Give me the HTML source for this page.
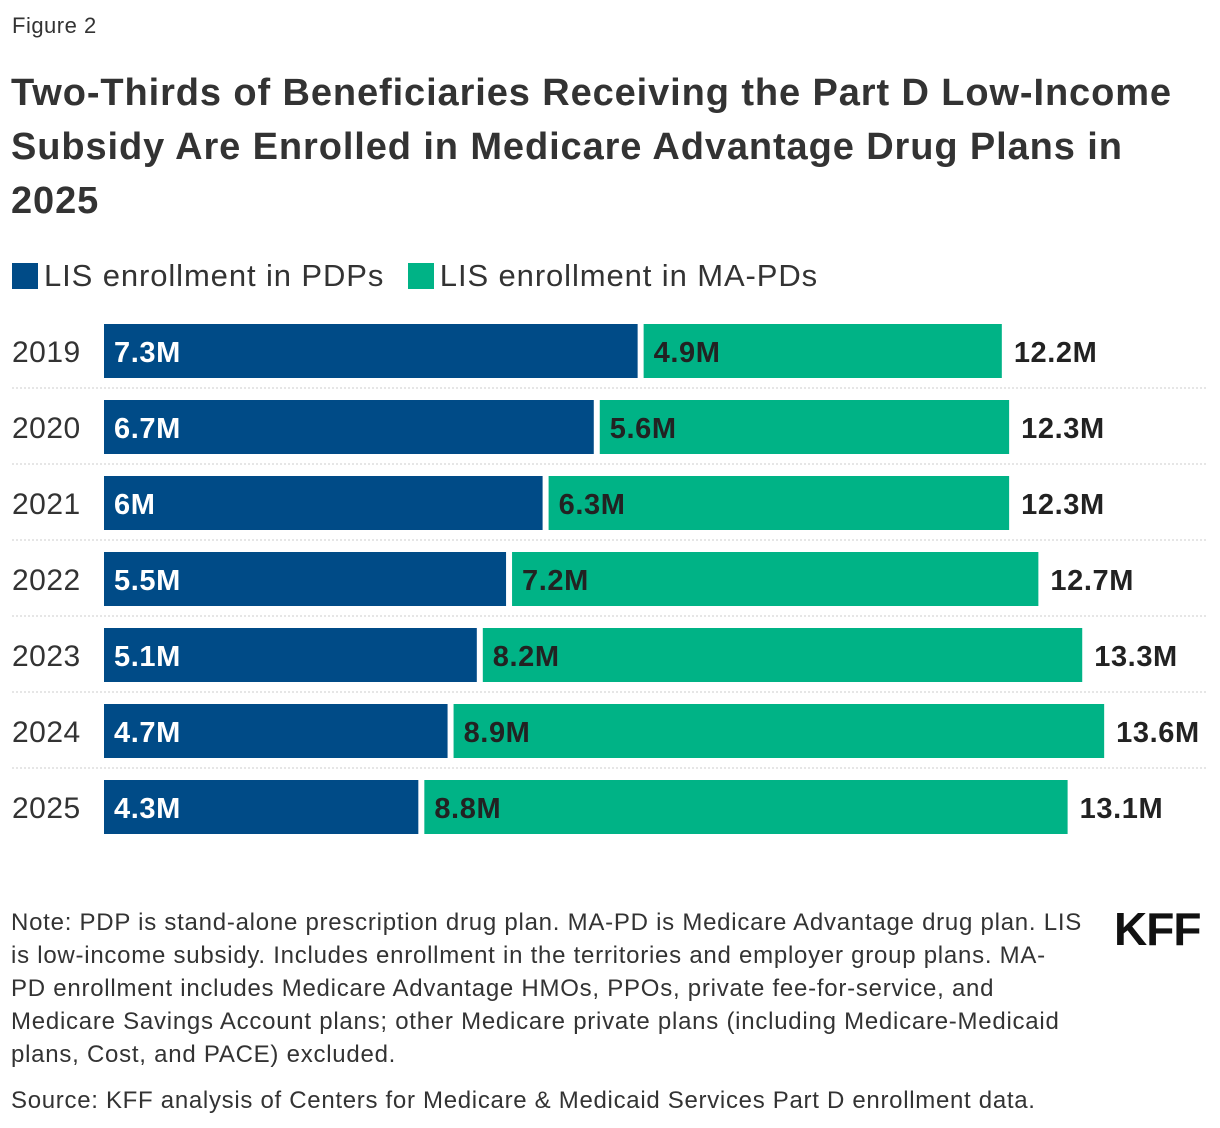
<!DOCTYPE html>
<html><head><meta charset="utf-8"><style>
body{margin:0;width:1220px;height:1128px;background:#fff;font-family:"Liberation Sans",sans-serif;color:#222;position:relative;overflow:hidden}
.abs{position:absolute}
</style></head><body>
<div class="abs" style="left:12px;top:13px;font-size:22px;color:#333;letter-spacing:0.5px">Figure 2</div>
<div class="abs" style="left:11px;top:66px;width:1210px;font-size:38px;font-weight:bold;line-height:54px;color:#333;letter-spacing:0.9px;white-space:nowrap">Two-Thirds of Beneficiaries Receiving the Part D Low-Income<br>Subsidy Are Enrolled in Medicare Advantage Drug Plans in<br>2025</div>
<div class="abs" style="left:12px;top:258px;font-size:31px;color:#333;white-space:nowrap;letter-spacing:0.9px">
<span><span style="display:inline-block;width:26px;height:26px;background:#004b87;vertical-align:-3px;margin-right:6px"></span>LIS enrollment in PDPs</span>
<span style="margin-left:14px"><span style="display:inline-block;width:26px;height:26px;background:#00b386;vertical-align:-3px;margin-right:6px"></span>LIS enrollment in MA-PDs</span>
</div>
<svg class="abs" style="left:0;top:0" width="1220" height="860" id="chart"></svg>
<div class="abs" style="left:11px;top:906px;width:1100px;font-size:24px;line-height:33px;color:#333;letter-spacing:0.75px;white-space:nowrap">Note: PDP is stand-alone prescription drug plan. MA-PD is Medicare Advantage drug plan. LIS<br>is low-income subsidy. Includes enrollment in the territories and employer group plans. MA-<br>PD enrollment includes Medicare Advantage HMOs, PPOs, private fee-for-service, and<br>Medicare Savings Account plans; other Medicare private plans (including Medicare-Medicaid<br>plans, Cost, and PACE) excluded.</div>
<div class="abs" style="left:11px;top:1087px;font-size:24px;color:#333;letter-spacing:0.7px;white-space:nowrap">Source: KFF analysis of Centers for Medicare &amp; Medicaid Services Part D enrollment data.</div>
<div class="abs" style="left:1114px;top:902px;font-size:46px;font-weight:bold;color:#111;letter-spacing:-1px">KFF</div>
<script>
const years=["2019","2020","2021","2022","2023","2024","2025"];
const pdp=[7.3,6.7,6.0,5.5,5.1,4.7,4.3];
const mapd=[4.9,5.6,6.3,7.2,8.2,8.9,8.8];
const pdpLabels=["7.3M","6.7M","6M","5.5M","5.1M","4.7M","4.3M"];
const mapdLabels=["4.9M","5.6M","6.3M","7.2M","8.2M","8.9M","8.8M"];
const totalLabels=["12.2M","12.3M","12.3M","12.7M","13.3M","13.6M","13.1M"];
const svg=document.getElementById('chart');const NS="http://www.w3.org/2000/svg";
const x0=104,k=73.1,gap=6,top0=324,step=76,bh=54;
const xs=v=>v*k;
function mk(t,a,txt){const e=document.createElementNS(NS,t);for(const p in a)e.setAttribute(p,a[p]);if(txt!=null)e.textContent=txt;svg.appendChild(e);return e;}
years.forEach((y,i)=>{
 const yt=top0+i*step,cy=yt+bh/2+11;
 let e=mk('text',{x:12,y:cy,'font-size':30,fill:'#333','letter-spacing':'0.5'},y);
 
 const w1=xs(pdp[i]),w2=xs(mapd[i]);
 e=mk('rect',{x:x0,y:yt,width:w1,height:bh,fill:'#004b87'});
 
 e=mk('rect',{x:x0+w1+gap,y:yt,width:w2,height:bh,fill:'#00b386'});
 
 e=mk('text',{x:x0+10,y:cy,'font-size':29,'font-weight':'bold',fill:'#fff','letter-spacing':'0.6'},pdpLabels[i]);
 
 e=mk('text',{x:x0+w1+gap+10,y:cy,'font-size':29,'font-weight':'bold',fill:'#222','letter-spacing':'0.6'},mapdLabels[i]);
 
 e=mk('text',{x:x0+w1+gap+w2+12,y:cy,'font-size':29,'font-weight':'bold',fill:'#222','letter-spacing':'0.6'},totalLabels[i]);
 
 if(i<years.length-1){e=mk('line',{x1:12,x2:1208,y1:yt+bh+10,y2:yt+bh+10,stroke:'#ccc','stroke-dasharray':'2,2'});
 }
});
</script>
</body></html>
